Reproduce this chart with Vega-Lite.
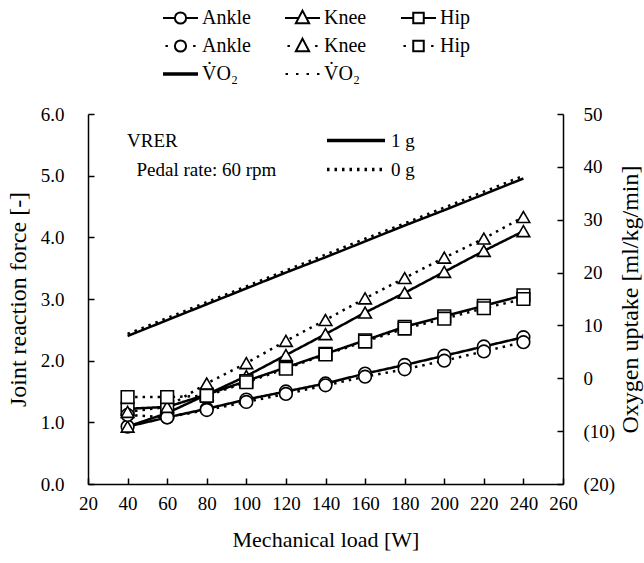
{
  "$schema": "https://vega.github.io/schema/vega-lite/v6.json",
  "width": 475,
  "height": 370,
  "autosize": {"type": "none"},
  "padding": {"left": 88, "top": 114, "right": 81, "bottom": 79},
  "background": "white",
  "data": {"values": [
    {"load":40,"joint":"Ankle","gravity":"1 g","series":"Ankle 1 g","jrf":0.93},
    {"load":60,"joint":"Ankle","gravity":"1 g","series":"Ankle 1 g","jrf":1.08},
    {"load":80,"joint":"Ankle","gravity":"1 g","series":"Ankle 1 g","jrf":1.22},
    {"load":100,"joint":"Ankle","gravity":"1 g","series":"Ankle 1 g","jrf":1.37},
    {"load":120,"joint":"Ankle","gravity":"1 g","series":"Ankle 1 g","jrf":1.5},
    {"load":140,"joint":"Ankle","gravity":"1 g","series":"Ankle 1 g","jrf":1.63},
    {"load":160,"joint":"Ankle","gravity":"1 g","series":"Ankle 1 g","jrf":1.79},
    {"load":180,"joint":"Ankle","gravity":"1 g","series":"Ankle 1 g","jrf":1.93},
    {"load":200,"joint":"Ankle","gravity":"1 g","series":"Ankle 1 g","jrf":2.08},
    {"load":220,"joint":"Ankle","gravity":"1 g","series":"Ankle 1 g","jrf":2.23},
    {"load":240,"joint":"Ankle","gravity":"1 g","series":"Ankle 1 g","jrf":2.38},
    {"load":40,"joint":"Knee","gravity":"1 g","series":"Knee 1 g","jrf":0.93},
    {"load":60,"joint":"Knee","gravity":"1 g","series":"Knee 1 g","jrf":1.15},
    {"load":80,"joint":"Knee","gravity":"1 g","series":"Knee 1 g","jrf":1.45},
    {"load":100,"joint":"Knee","gravity":"1 g","series":"Knee 1 g","jrf":1.75},
    {"load":120,"joint":"Knee","gravity":"1 g","series":"Knee 1 g","jrf":2.09},
    {"load":140,"joint":"Knee","gravity":"1 g","series":"Knee 1 g","jrf":2.43},
    {"load":160,"joint":"Knee","gravity":"1 g","series":"Knee 1 g","jrf":2.78},
    {"load":180,"joint":"Knee","gravity":"1 g","series":"Knee 1 g","jrf":3.1},
    {"load":200,"joint":"Knee","gravity":"1 g","series":"Knee 1 g","jrf":3.44},
    {"load":220,"joint":"Knee","gravity":"1 g","series":"Knee 1 g","jrf":3.78},
    {"load":240,"joint":"Knee","gravity":"1 g","series":"Knee 1 g","jrf":4.1},
    {"load":40,"joint":"Hip","gravity":"1 g","series":"Hip 1 g","jrf":1.22},
    {"load":60,"joint":"Hip","gravity":"1 g","series":"Hip 1 g","jrf":1.25},
    {"load":80,"joint":"Hip","gravity":"1 g","series":"Hip 1 g","jrf":1.45},
    {"load":100,"joint":"Hip","gravity":"1 g","series":"Hip 1 g","jrf":1.67},
    {"load":120,"joint":"Hip","gravity":"1 g","series":"Hip 1 g","jrf":1.89},
    {"load":140,"joint":"Hip","gravity":"1 g","series":"Hip 1 g","jrf":2.11},
    {"load":160,"joint":"Hip","gravity":"1 g","series":"Hip 1 g","jrf":2.33},
    {"load":180,"joint":"Hip","gravity":"1 g","series":"Hip 1 g","jrf":2.55},
    {"load":200,"joint":"Hip","gravity":"1 g","series":"Hip 1 g","jrf":2.72},
    {"load":220,"joint":"Hip","gravity":"1 g","series":"Hip 1 g","jrf":2.89},
    {"load":240,"joint":"Hip","gravity":"1 g","series":"Hip 1 g","jrf":3.06},
    {"load":40,"joint":"Ankle","gravity":"0 g","series":"Ankle 0 g","jrf":1.12},
    {"load":60,"joint":"Ankle","gravity":"0 g","series":"Ankle 0 g","jrf":1.08},
    {"load":80,"joint":"Ankle","gravity":"0 g","series":"Ankle 0 g","jrf":1.2},
    {"load":100,"joint":"Ankle","gravity":"0 g","series":"Ankle 0 g","jrf":1.33},
    {"load":120,"joint":"Ankle","gravity":"0 g","series":"Ankle 0 g","jrf":1.46},
    {"load":140,"joint":"Ankle","gravity":"0 g","series":"Ankle 0 g","jrf":1.6},
    {"load":160,"joint":"Ankle","gravity":"0 g","series":"Ankle 0 g","jrf":1.74},
    {"load":180,"joint":"Ankle","gravity":"0 g","series":"Ankle 0 g","jrf":1.86},
    {"load":200,"joint":"Ankle","gravity":"0 g","series":"Ankle 0 g","jrf":2.0},
    {"load":220,"joint":"Ankle","gravity":"0 g","series":"Ankle 0 g","jrf":2.15},
    {"load":240,"joint":"Ankle","gravity":"0 g","series":"Ankle 0 g","jrf":2.3},
    {"load":40,"joint":"Knee","gravity":"0 g","series":"Knee 0 g","jrf":1.17},
    {"load":60,"joint":"Knee","gravity":"0 g","series":"Knee 0 g","jrf":1.25},
    {"load":80,"joint":"Knee","gravity":"0 g","series":"Knee 0 g","jrf":1.63},
    {"load":100,"joint":"Knee","gravity":"0 g","series":"Knee 0 g","jrf":1.96},
    {"load":120,"joint":"Knee","gravity":"0 g","series":"Knee 0 g","jrf":2.32},
    {"load":140,"joint":"Knee","gravity":"0 g","series":"Knee 0 g","jrf":2.66},
    {"load":160,"joint":"Knee","gravity":"0 g","series":"Knee 0 g","jrf":3.01},
    {"load":180,"joint":"Knee","gravity":"0 g","series":"Knee 0 g","jrf":3.34},
    {"load":200,"joint":"Knee","gravity":"0 g","series":"Knee 0 g","jrf":3.67},
    {"load":220,"joint":"Knee","gravity":"0 g","series":"Knee 0 g","jrf":3.98},
    {"load":240,"joint":"Knee","gravity":"0 g","series":"Knee 0 g","jrf":4.33},
    {"load":40,"joint":"Hip","gravity":"0 g","series":"Hip 0 g","jrf":1.41},
    {"load":60,"joint":"Hip","gravity":"0 g","series":"Hip 0 g","jrf":1.41},
    {"load":80,"joint":"Hip","gravity":"0 g","series":"Hip 0 g","jrf":1.43},
    {"load":100,"joint":"Hip","gravity":"0 g","series":"Hip 0 g","jrf":1.65},
    {"load":120,"joint":"Hip","gravity":"0 g","series":"Hip 0 g","jrf":1.87},
    {"load":140,"joint":"Hip","gravity":"0 g","series":"Hip 0 g","jrf":2.1},
    {"load":160,"joint":"Hip","gravity":"0 g","series":"Hip 0 g","jrf":2.31},
    {"load":180,"joint":"Hip","gravity":"0 g","series":"Hip 0 g","jrf":2.52},
    {"load":200,"joint":"Hip","gravity":"0 g","series":"Hip 0 g","jrf":2.68},
    {"load":220,"joint":"Hip","gravity":"0 g","series":"Hip 0 g","jrf":2.85},
    {"load":240,"joint":"Hip","gravity":"0 g","series":"Hip 0 g","jrf":3.0},
    {"load":40,"joint":"VO2","gravity":"1 g","series":"VO2 1 g","vo2":8.0},
    {"load":60,"joint":"VO2","gravity":"1 g","series":"VO2 1 g","vo2":11.0},
    {"load":80,"joint":"VO2","gravity":"1 g","series":"VO2 1 g","vo2":14.0},
    {"load":100,"joint":"VO2","gravity":"1 g","series":"VO2 1 g","vo2":17.0},
    {"load":120,"joint":"VO2","gravity":"1 g","series":"VO2 1 g","vo2":20.0},
    {"load":140,"joint":"VO2","gravity":"1 g","series":"VO2 1 g","vo2":22.9},
    {"load":160,"joint":"VO2","gravity":"1 g","series":"VO2 1 g","vo2":25.9},
    {"load":180,"joint":"VO2","gravity":"1 g","series":"VO2 1 g","vo2":28.9},
    {"load":200,"joint":"VO2","gravity":"1 g","series":"VO2 1 g","vo2":31.8},
    {"load":220,"joint":"VO2","gravity":"1 g","series":"VO2 1 g","vo2":34.8},
    {"load":240,"joint":"VO2","gravity":"1 g","series":"VO2 1 g","vo2":37.8},
    {"load":40,"joint":"VO2","gravity":"0 g","series":"VO2 0 g","vo2":8.4},
    {"load":60,"joint":"VO2","gravity":"0 g","series":"VO2 0 g","vo2":11.4},
    {"load":80,"joint":"VO2","gravity":"0 g","series":"VO2 0 g","vo2":14.4},
    {"load":100,"joint":"VO2","gravity":"0 g","series":"VO2 0 g","vo2":17.4},
    {"load":120,"joint":"VO2","gravity":"0 g","series":"VO2 0 g","vo2":20.4},
    {"load":140,"joint":"VO2","gravity":"0 g","series":"VO2 0 g","vo2":23.4},
    {"load":160,"joint":"VO2","gravity":"0 g","series":"VO2 0 g","vo2":26.4},
    {"load":180,"joint":"VO2","gravity":"0 g","series":"VO2 0 g","vo2":29.3},
    {"load":200,"joint":"VO2","gravity":"0 g","series":"VO2 0 g","vo2":32.3},
    {"load":220,"joint":"VO2","gravity":"0 g","series":"VO2 0 g","vo2":35.3},
    {"load":240,"joint":"VO2","gravity":"0 g","series":"VO2 0 g","vo2":38.3}
  ]},
  "encoding": {
    "x": {"field": "load", "type": "quantitative", "scale": {"domain": [20, 260], "nice": false, "zero": false},
          "axis": {"values": [20,40,60,80,100,120,140,160,180,200,220,240,260], "title": "Mechanical load [W]",
                   "tickSize": -6, "labelPadding": 16, "titlePadding": 16, "labelOverlap": false, "labelFlush": false,
                   "labelFont": "Liberation Serif", "titleFont": "Liberation Serif",
                   "labelFontSize": 19, "titleFontSize": 22}}
  },
  "layer": [
    {
      "transform": [{"filter": "datum.joint != 'VO2'"}],
      "encoding": {
        "y": {"field": "jrf", "type": "quantitative", "scale": {"domain": [0, 6], "nice": false},
              "axis": {"values": [0,1,2,3,4,5,6], "format": ".1f", "title": "Joint reaction force [-]",
                       "tickSize": -6, "labelPadding": 30, "titlePadding": 10, "labelOverlap": false,
                       "labelFont": "Liberation Serif", "titleFont": "Liberation Serif",
                       "labelFontSize": 19, "titleFontSize": 24}}
      },
      "layer": [
        {
          "mark": {"type": "line", "color": "black", "strokeWidth": 2.5},
          "encoding": {
            "detail": {"field": "series"},
            "strokeDash": {"field": "gravity", "type": "nominal",
              "scale": {"domain": ["1 g", "0 g"], "range": [[1, 0], [2.5, 5]]},
              "legend": {"orient": "none", "legendX": 39, "legendY": 12,
                "title": ["VRER", "\u200b\u2002Pedal rate: 60 rpm"], "titleOrient": "left",
                "titleLineHeight": 29, "titleFontSize": 19, "titleFontWeight": "normal", "titleBaseline": "middle",
                "titleFont": "Liberation Serif", "labelFont": "Liberation Serif",
                "titlePadding": 48, "symbolType": "stroke", "symbolSize": 3364, "symbolStrokeWidth": 3.5,
                "symbolStrokeColor": "black", "clipHeight": 29, "rowPadding": 0, "labelFontSize": 19, "labelOffset": 4}}
          }
        },
        {
          "mark": {"type": "point", "filled": true, "fill": "white", "stroke": "black", "strokeWidth": 1.6, "size": 160, "opacity": 1},
          "encoding": {
            "shape": {"field": "joint", "type": "nominal",
              "scale": {"domain": ["Ankle", "Knee", "Hip"], "range": ["circle", "triangle-up", "square"]},
              "legend": null}
          }
        }
      ]
    },
    {
      "transform": [{"filter": "datum.joint == 'VO2'"}],
      "mark": {"type": "line", "color": "black", "strokeWidth": 2.5},
      "encoding": {
        "y": {"field": "vo2", "type": "quantitative", "scale": {"domain": [-20, 50], "nice": false},
              "axis": {"orient": "right", "values": [-20,-10,0,10,20,30,40,50],
                       "labelExpr": "datum.value < 0 ? '(' + abs(datum.value) + ')' : datum.value",
                       "title": "Oxygen uptake [ml/kg/min]", "tickSize": -6, "labelPadding": 26,
                       "titleAngle": 270, "titlePadding": 28, "labelOverlap": false,
                       "labelFont": "Liberation Serif", "titleFont": "Liberation Serif",
                       "labelFontSize": 19, "titleFontSize": 24}},
        "strokeDash": {"field": "gravity", "type": "nominal"},
        "detail": {"field": "series"}
      }
    },
    {
      "mark": {"type": "point", "opacity": 0, "color": "black", "filled": false},
      "encoding": {
        "x": {"value": 0},
        "shape": {"field": "series", "type": "nominal",
          "scale": {"domain": ["Ankle 1 g", "Knee 1 g", "Hip 1 g", "Ankle 0 g", "Knee 0 g", "Hip 0 g", "VO2 1 g", "VO2 0 g"],
            "range": [
              "M -1 0 L -0.32 0 M 0.32 0 L 1 0 M 0.32 0 A 0.32 0.32 0 1 1 -0.32 0 A 0.32 0.32 0 1 1 0.32 0 Z",
              "M -1 0 L -0.22 0 M 0.22 0 L 1 0 M 0 -0.42 L 0.38 0.3 L -0.38 0.3 Z",
              "M -1 0 L -0.3 0 M 0.3 0 L 1 0 M -0.3 -0.3 L 0.3 -0.3 L 0.3 0.3 L -0.3 0.3 Z",
              "M -0.86 0 L -0.72 0 M 0.72 0 L 0.86 0 M 0.32 0 A 0.32 0.32 0 1 1 -0.32 0 A 0.32 0.32 0 1 1 0.32 0 Z",
              "M -0.86 0 L -0.72 0 M 0.72 0 L 0.86 0 M 0 -0.42 L 0.38 0.3 L -0.38 0.3 Z",
              "M -0.86 0 L -0.72 0 M 0.72 0 L 0.86 0 M -0.3 -0.3 L 0.3 -0.3 L 0.3 0.3 L -0.3 0.3 Z",
              "M -1 -0.04 L 1 -0.04 M -1 0.04 L 1 0.04",
              "M -0.97 0 L -0.83 0 M -0.37 0 L -0.23 0 M 0.23 0 L 0.37 0 M 0.83 0 L 0.97 0"
            ]},
          "legend": {"orient": "none", "legendX": 74, "legendY": -110, "title": null, "columns": 3,
            "direction": "horizontal",
            "columnPadding": 33, "rowPadding": 0, "symbolSize": 1225, "clipHeight": 28,
            "symbolOpacity": 1, "symbolStrokeColor": "black", "symbolStrokeWidth": 2,
            "labelFont": "Liberation Serif", "labelFontSize": 20, "labelOffset": 3,
            "labelExpr": "replace(split(datum.label, ' ')[0], 'VO2', 'V\u0307O\u2082')"}
        }
      }
    }
  ],
  "resolve": {"scale": {"y": "independent", "shape": "independent"}, "legend": {"shape": "independent"}},
  "config": {
    "font": "Liberation Serif",
    "view": {"stroke": null},
    "axis": {"grid": false, "domainColor": "black", "domainWidth": 1.5, "tickColor": "black", "tickWidth": 1.5,
             "labelColor": "black", "labelFontSize": 18, "labelFont": "Liberation Serif",
             "titleColor": "black", "titleFontSize": 21, "titleFontWeight": "normal", "titleFont": "Liberation Serif"},
    "legend": {"labelColor": "black", "titleColor": "black", "labelFont": "Liberation Serif", "titleFont": "Liberation Serif"}
  }
}
